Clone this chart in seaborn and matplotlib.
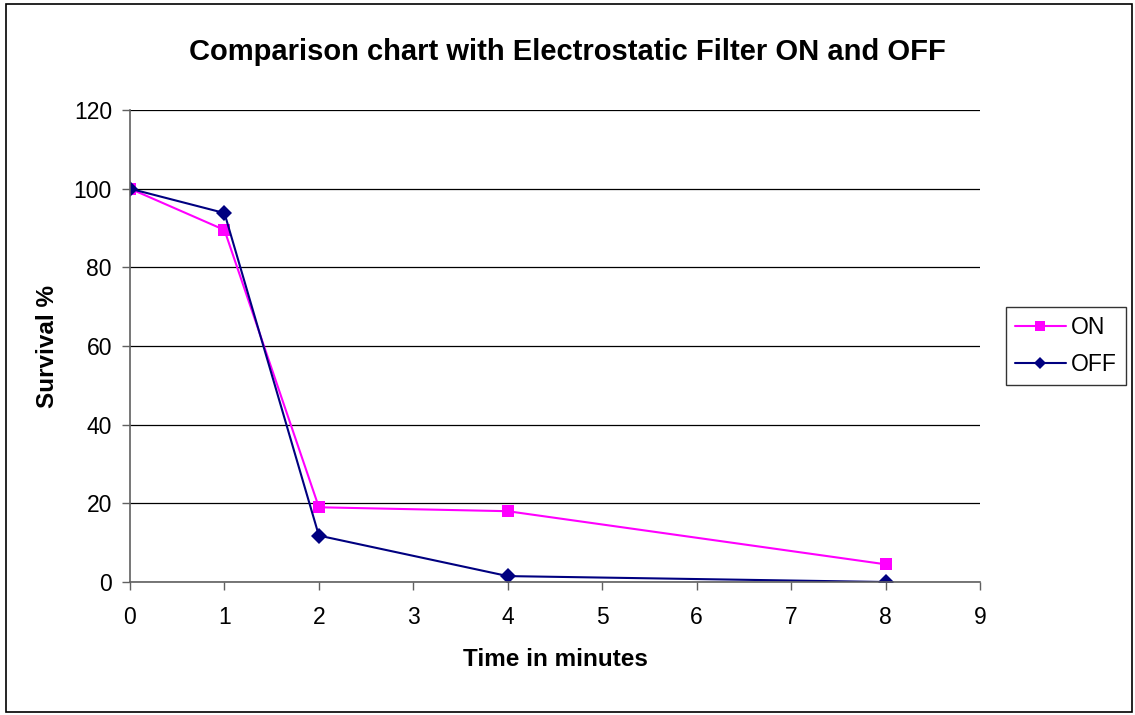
import matplotlib
matplotlib.use("Agg")
import matplotlib.pyplot as plt
import matplotlib.patches as mpatches
from matplotlib.lines import Line2D
import seaborn as sns
import pandas as pd

time_min = [0, 1, 2, 4, 8]
on_vals = [100, 89.5, 19, 18, 4.5]
off_vals = [100, 93.8, 11.8, 1.5, 0]
series_names = ["ON", "OFF"]
x_ticks = list(range(0, 10))
y_ticks = list(range(0, 121, 20))

df = pd.DataFrame({
    "Time": time_min * 2,
    "Survival": on_vals + off_vals,
    "Series": [series_names[0]] * len(time_min) + [series_names[1]] * len(time_min),
})

sns.set_style("white")
plt.rcParams["font.family"] = ["Liberation Sans", "DejaVu Sans"]
plt.rcParams["text.color"] = "black"
plt.rcParams["axes.labelcolor"] = "black"
plt.rcParams["xtick.color"] = "black"
plt.rcParams["ytick.color"] = "black"

fig = plt.figure(figsize=(11.35, 7.15), dpi=100)
ax = fig.add_axes([130 / 1135, 1 - 582 / 715, 850 / 1135, 472 / 715])

palette = {"ON": "#FF00FF", "OFF": "#000080"}
markers = {"ON": "s", "OFF": "D"}
sns.lineplot(data=df, x="Time", y="Survival", hue="Series", style="Series",
             markers=markers, dashes=False, palette=palette, ax=ax,
             linewidth=1.5, markersize=8, markeredgewidth=0, legend=False)

ax.set_xlim(0, 9)
ax.set_ylim(0, 120)
ax.set_xticks(x_ticks)
ax.set_yticks(y_ticks)
ax.yaxis.grid(True, color="black", linewidth=0.9)
ax.set_axisbelow(True)
for s in ["top", "right"]:
    ax.spines[s].set_visible(False)
for s in ["left", "bottom"]:
    ax.spines[s].set_color("#606060")
    ax.spines[s].set_linewidth(1.2)
ax.tick_params(axis="both", which="both", direction="out", length=6, width=1,
               color="#606060", labelsize=16.5, labelcolor="black",
               bottom=True, left=True)
ax.tick_params(axis="x", pad=11)
ax.tick_params(axis="y", pad=7)
ax.set_xlabel("Time in minutes", fontsize=17.5, fontweight="bold", color="black")
ax.set_ylabel("Survival %", fontsize=17.5, fontweight="bold", color="black")
ax.xaxis.set_label_coords(0.5, (582 - 660) / 472)
ax.yaxis.set_label_coords((47 - 130) / 850, 0.5)
ax.xaxis.label.set_va("center")
ax.yaxis.label.set_va("center")
fig.text(567 / 1135, 1 - 52 / 715, "Comparison chart with Electrostatic Filter ON and OFF",
         ha="center", va="center", fontsize=21, fontweight="bold", color="black")

handles = [Line2D([0], [0], color=palette[n], marker=markers[n], markersize=6.5,
                  markeredgewidth=0, linewidth=1.5) for n in series_names]
leg = fig.legend(handles, series_names, loc="center left",
                 bbox_to_anchor=(1006 / 1135, 1 - 346 / 715), fontsize=16.5,
                 frameon=True, fancybox=False, edgecolor="black",
                 handlelength=2.2, borderpad=0.4, labelspacing=0.62,
                 handletextpad=0.25, borderaxespad=0)
leg.get_frame().set_linewidth(1.0)

fig.patches.append(mpatches.Rectangle((6 / 1135, 3 / 715), 1126 / 1135, 708 / 715,
                                      transform=fig.transFigure, fill=False,
                                      edgecolor="black", linewidth=1.2))

fig.savefig("out.png", dpi=100)
